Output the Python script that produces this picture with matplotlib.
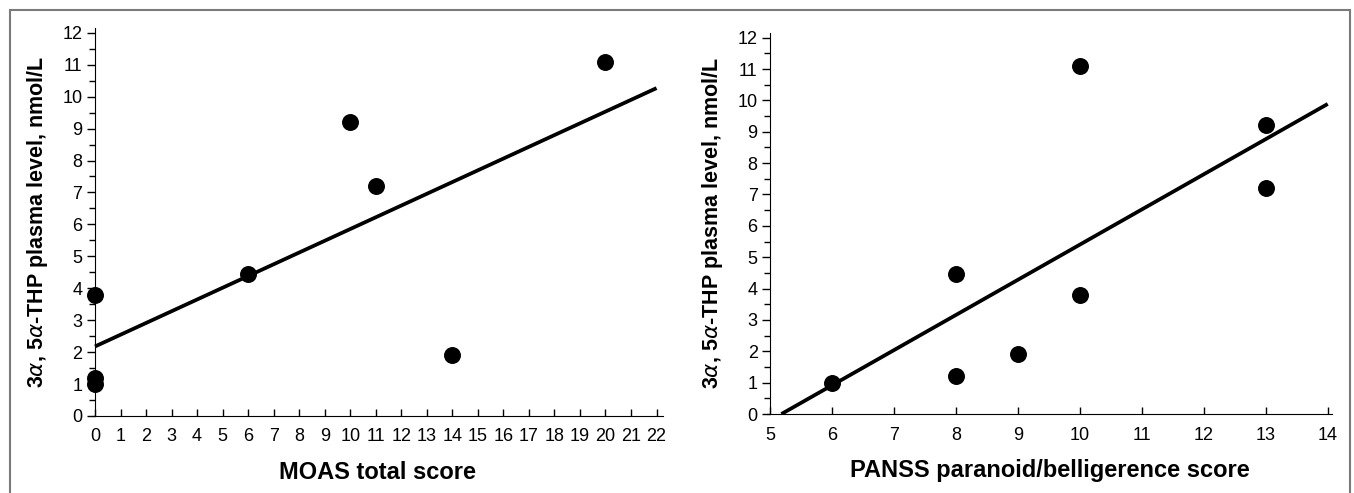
import numpy as np
import matplotlib.pyplot as plt
from matplotlib.patches import Rectangle
from matplotlib.ticker import MultipleLocator

plt.rcParams["font.family"] = ["Liberation Sans Narrow", "Liberation Sans", "DejaVu Sans"]

# 3a,5a-THP plasma level (nmol/L) per subject
moas_score = [0, 0, 0, 6, 10, 11, 14, 20]
moas_thp = [3.8, 1.2, 1.0, 4.45, 9.2, 7.2, 1.9, 11.1]

panss_score = [6, 8, 8, 9, 10, 10, 13, 13]
panss_thp = [1.0, 4.45, 1.2, 1.9, 11.1, 3.8, 9.2, 7.2]

YLABEL = r"3$\alpha$, 5$\alpha$-THP plasma level, nmol/L"

fig = plt.figure(figsize=(13.54, 4.93), dpi=100)

# outer frame
fig.add_artist(Rectangle((10 / 1354, -0.05), 1340 / 1354, 0.9797 + 0.05,
                         transform=fig.transFigure, fill=False,
                         edgecolor="#7a7a7a", linewidth=1.5))


def draw_panel(rect, x, y, xlim, xmaj, xlabel, line_from_zero):
    ax = fig.add_axes(rect)
    x = np.asarray(x, float)
    y = np.asarray(y, float)

    # least-squares line
    slope, icpt = np.polyfit(x, y, 1)
    if line_from_zero:
        x0 = -icpt / slope
    else:
        x0 = xmaj[0]
    xl = np.array([x0, xmaj[-1]])
    ax.plot(xl, slope * xl + icpt, color="black", lw=2.7, solid_capstyle="butt", zorder=2)
    ax.scatter(x, y, s=125, color="black", zorder=3, clip_on=False)

    ax.set_xlim(*xlim)
    ax.set_ylim(0, 12.15)
    ax.spines["top"].set_visible(False)
    ax.spines["right"].set_visible(False)
    ax.spines["left"].set_position(("data", xmaj[0]))
    ax.spines["left"].set_bounds(0, 12.15)

    ax.set_xticks(xmaj)
    ax.set_yticks(range(0, 13))
    ax.yaxis.set_minor_locator(MultipleLocator(0.5))
    ax.tick_params(axis="x", direction="in", length=5, width=1, labelsize=13, pad=9)
    ax.tick_params(axis="y", which="major", direction="out", length=6, width=1, labelsize=13, pad=3)
    ax.tick_params(axis="y", which="minor", direction="out", length=4, width=1)

    ax.set_xlabel(xlabel, fontsize=17, fontweight="bold", labelpad=11)
    ax.set_ylabel(YLABEL, fontsize=15.5, fontweight="bold",
                  family=["Liberation Sans", "DejaVu Sans"], labelpad=9)
    return ax


ax1 = draw_panel([0.0679, 0.1562, 0.4217, 0.787], moas_score, moas_thp,
                 (-0.12, 22.25), list(range(0, 23)), "MOAS total score", False)
ax2 = draw_panel([0.5665, 0.1602, 0.4173, 0.773], panss_score, panss_thp,
                 (4.95, 14.07), list(range(5, 15)),
                 "PANSS paranoid/belligerence score", True)

fig.savefig("out.png", dpi=100)
